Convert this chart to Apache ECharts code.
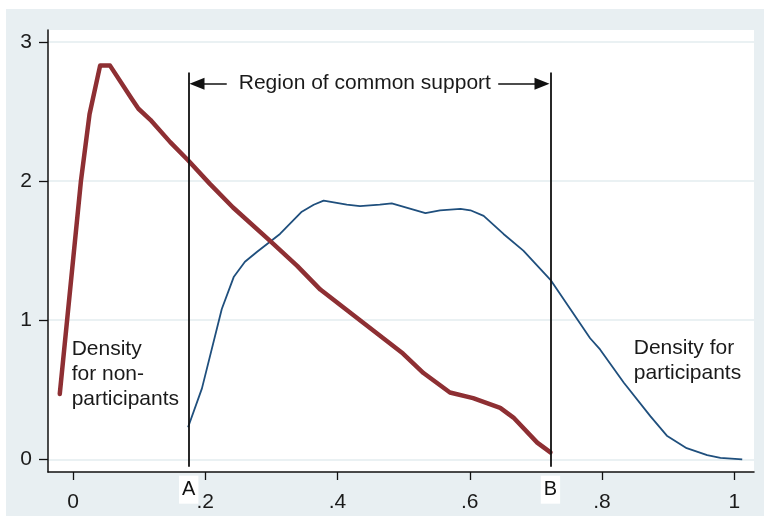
<!DOCTYPE html>
<html lang="en">
<head>
    <script src="https://cdn.jsdelivr.net/npm/echarts@6/dist/echarts.min.js"></script>
    <style>
        body { margin: 0; background: #fff; }
        #chart {
        position: absolute;
        left: 6px;
        top: 9px;
        width: 758px;
        height: 507px;
        }
    </style>
</head>
<body>
<div id="chart"></div>
<script>
// density for non-participants (thick red)
const nonX = [-0.020, 0.012, 0.025, 0.041, 0.056, 0.089, 0.099, 0.117, 0.147, 0.174, 0.207, 0.242, 0.298, 0.339, 0.374, 0.434, 0.499, 0.530, 0.570, 0.605, 0.646, 0.666, 0.702, 0.722]
const nonY = [0.47, 2.00, 2.48, 2.83, 2.83, 2.59, 2.52, 2.44, 2.28, 2.15, 1.98, 1.81, 1.57, 1.39, 1.22, 1.00, 0.76, 0.62, 0.48, 0.44, 0.37, 0.30, 0.12, 0.05]

// density for participants (thin blue)
const partX = [0.174, 0.195, 0.225, 0.243, 0.260, 0.278, 0.313, 0.346, 0.364, 0.379, 0.414, 0.434, 0.464, 0.482, 0.533, 0.555, 0.586, 0.601, 0.621, 0.651, 0.681, 0.722, 0.752, 0.782, 0.797, 0.833, 0.873, 0.898, 0.928, 0.959, 0.979, 1.012]
const partY = [0.23, 0.51, 1.08, 1.31, 1.42, 1.49, 1.62, 1.78, 1.83, 1.86, 1.83, 1.82, 1.83, 1.84, 1.77, 1.79, 1.80, 1.79, 1.75, 1.62, 1.50, 1.29, 1.08, 0.87, 0.79, 0.55, 0.31, 0.17, 0.08, 0.03, 0.01, 0.00]

const xTicks = [0, 0.2, 0.4, 0.6, 0.8, 1]
const yTicks = [0, 1, 2, 3]

// bounds of the region of common support (A, B)
const supportA = 0.175
const supportB = 0.722
const supportTop = 2.78
const supportBottom = -0.053
const arrowY = 2.70
const arrowLeftEnd = 0.2325
const arrowRightStart = 0.643

const FONT = '"Liberation Sans", Arial, sans-serif'
const zip = (xs, ys) => xs.map((x, i) => [x, ys[i]])

let chart = echarts.init(document.querySelector('#chart'))

const boundLabel = (text) => ({
    show: true, position: 'start', formatter: text, distance: 9,
    fontSize: 20, lineHeight: 20, color: '#111', backgroundColor: '#fff',
    padding: [4, 3, 4, 3], fontFamily: FONT
})

chart.setOption({
    backgroundColor: '#e8eff2',
    animation: false,
    textStyle: { fontFamily: FONT },
    grid: {
        left: 42, top: 21, right: 10, bottom: 44,
        outerBoundsMode: 'none',
        containLabel: false,
        show: true, backgroundColor: '#fff', borderWidth: 0
    },
    xAxis: {
        type: 'value',
        min: -0.0378,
        max: 1.0298,
        axisLine: { show: true, onZero: false, lineStyle: { color: '#111', width: 1.5 } },
        axisTick: { show: true, customValues: xTicks, length: 8, lineStyle: { color: '#111', width: 1.3 } },
        axisLabel: {
            customValues: xTicks,
            margin: 12,
            fontSize: 21,
            color: '#1a1a1a',
            fontFamily: FONT,
            formatter: v => (v === 0 || v === 1) ? String(v) : String(+v.toFixed(1)).replace(/^0/, '')
        },
        splitLine: { show: false }
    },
    yAxis: {
        type: 'value',
        min: -0.0913,
        max: 3.086,
        axisLine: { show: true, onZero: false, lineStyle: { color: '#111', width: 1.5 } },
        axisTick: { show: true, customValues: yTicks, length: 9, lineStyle: { color: '#111', width: 1.3 } },
        axisLabel: { customValues: yTicks, margin: 16, fontSize: 21, color: '#1a1a1a', fontFamily: FONT },
        splitLine: { show: true, lineStyle: { color: '#e3ecef', width: 1.5 } }
    },
    series: [
        {
            type: 'line',
            data: zip(partX, partY),
            showSymbol: false,
            lineStyle: { color: '#1f4f7d', width: 1.8 },
            z: 2
        },
        {
            type: 'line',
            data: zip(nonX, nonY),
            showSymbol: false,
            lineStyle: { color: '#8e2f33', width: 4.5, cap: 'round', join: 'round' },
            z: 3
        },
        {
            // annotations: support bounds, arrows and text
            type: 'line',
            data: [],
            z: 4,
            markLine: {
                silent: true,
                symbol: ['none', 'none'],
                animation: false,
                lineStyle: { color: '#111', width: 1.8, type: 'solid' },
                label: { show: false },
                data: [
                    [
                        { coord: [supportA, supportBottom], label: boundLabel('A') },
                        { coord: [supportA, supportTop] }
                    ],
                    [
                        { coord: [supportB, supportBottom], label: boundLabel('B') },
                        { coord: [supportB, supportTop] }
                    ],
                    [
                        { coord: [0.1875, arrowY], symbol: 'triangle', symbolSize: [12, 15],
                          lineStyle: { width: 1.5 } },
                        { coord: [arrowLeftEnd, arrowY] }
                    ],
                    [
                        { coord: [arrowRightStart, arrowY], lineStyle: { width: 1.5 } },
                        { coord: [0.7092, arrowY], symbol: 'triangle', symbolSize: [12, 15] }
                    ]
                ]
            },
            markPoint: {
                silent: true,
                symbol: 'circle',
                symbolSize: 0,
                animation: false,
                label: {
                    show: true, position: 'inside', color: '#1a1a1a', fontSize: 21, lineHeight: 25, fontFamily: FONT
                },
                data: [
                    { coord: [0.4413, arrowY], label: { formatter: 'Region of common support', align: 'center', verticalAlign: 'middle', fontSize: 21 } },
                    { coord: [-0.002, 0.61], label: { formatter: 'Density\nfor non-\nparticipants', align: 'left', verticalAlign: 'middle' } },
                    { coord: [0.848, 0.706], label: { formatter: 'Density for\nparticipants', align: 'left', verticalAlign: 'middle' } }
                ]
            }
        }
    ]
})
</script>
</body>
</html>
